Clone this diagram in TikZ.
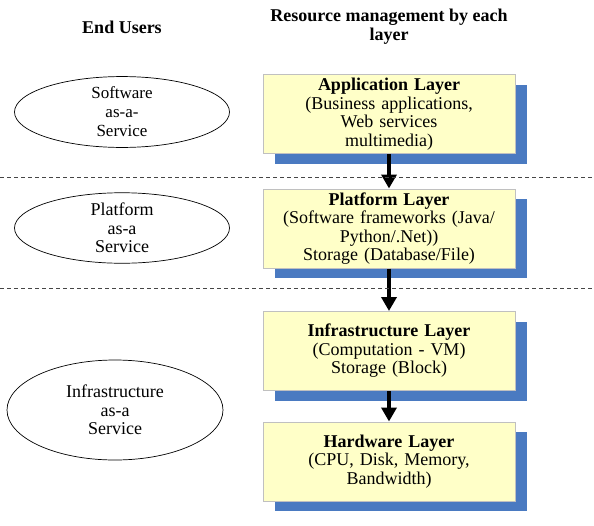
\documentclass[tikz,border=0pt]{standalone}
\usepackage{fontspec}
\setmainfont{Liberation Serif}
\usetikzlibrary{arrows.meta,shapes.geometric}
\definecolor{layerfill}{RGB}{255,255,200}
\definecolor{layerrule}{RGB}{192,192,192}
\definecolor{layershadow}{RGB}{74,122,193}
\definecolor{sepline}{RGB}{70,70,70}
\begin{document}
\begin{tikzpicture}[x=1pt,y=-1pt,
  layerbox/.style={draw=layerrule, fill=layerfill, line width=1pt,
    minimum width=252pt, minimum height=79pt, text width=244pt,
    align=center, inner sep=0pt, font=\fontsize{18}{18.5}\selectfont},
  layershade/.style={fill=layershadow, minimum width=252pt,
    minimum height=79pt, inner sep=0pt},
  service/.style={ellipse, draw, line width=0.7pt, inner sep=0pt,
    align=center, font=\fontsize{18}{18.5}\selectfont},
  heading/.style={align=center, font=\bfseries\fontsize{18}{19}\selectfont},
  flow/.style={line width=4pt, -{Triangle[width=15pt,length=14pt]}},
  separator/.style={draw=sepline, line width=0.8pt, dash pattern=on 4pt off 3pt}]
\useasboundingbox (0,0) rectangle (594,525);

% column headings
\node[heading] (users) at (122,27) {End Users};
\node[heading] (mgmt) at (389,27) {Resource management by each\\layer};

% drop shadows behind the layer boxes
\node[layershade] (appS) at (401,124) {};
\node[layershade] (platS) at (401,238.5) {};
\node[layershade] (infraS) at (401,361) {};
\node[layershade] (hwS) at (401,471.5) {};

% layer boxes
\node[layerbox] (app) at (389,114)
  {\textbf{Application Layer}\\(Business applications,\\Web services\\multimedia)};
\node[layerbox] (plat) at (389,228.5)
  {\textbf{Platform Layer}\\(Software frameworks (Java/\\Python/.Net))\\Storage (Database/File)};
\node[layerbox] (infra) at (389,351)
  {\textbf{Infrastructure Layer}\\(Computation - VM)\\Storage (Block)};
\node[layerbox] (hw) at (389,461.5)
  {\textbf{Hardware Layer}\\(CPU, Disk, Memory,\\Bandwidth)};

% arrows between the layers
\draw[flow] (app.south) -- (plat.north);
\draw[flow] (plat.south) -- (infra.north);
\draw[flow] (infra.south) -- (hw.north);

% separators between service models
\draw[separator] (0,177) -- (594,177);
\draw[separator] (0,288) -- (594,288);

% service models offered to end users
\node[service, minimum width=215pt, minimum height=58pt,
  font=\fontsize{17}{19}\selectfont] (saas) at (122,112)
  {Software\\as-a-\\Service};
\node[service, minimum width=215pt, minimum height=70pt] (paas) at (122,228)
  {Platform\\as-a\\Service};
\node[service, minimum width=216pt, minimum height=100pt] (iaas) at (115,410)
  {Infrastructure\\as-a\\Service};
\end{tikzpicture}
\end{document}
